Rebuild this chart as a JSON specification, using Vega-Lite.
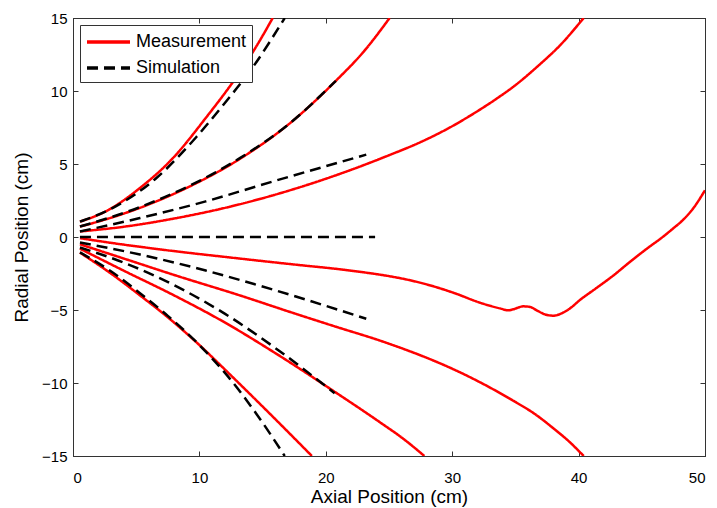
{
  "$schema": "https://vega.github.io/schema/vega-lite/v6.json",
  "width": 632,
  "height": 438,
  "autosize": {"type": "none"},
  "padding": {"left": 73, "top": 18, "right": 12, "bottom": 52},
  "background": "white",
  "config": {
    "font": "Liberation Sans",
    "view": {"stroke": "#333", "strokeWidth": 1},
    "axis": {"grid": false, "domainColor": "#333", "tickColor": "#333", "labelColor": "black", "titleColor": "black", "labelFont": "Liberation Sans", "titleFont": "Liberation Sans", "titleFontWeight": "normal"}
  },
  "data": {"values": [
    {"s":"M1","t":"Measurement","x":0.55,"y":1.05},{"s":"M1","t":"Measurement","x":2.6,"y":1.76},{"s":"M1","t":"Measurement","x":5.3,"y":3.36},{"s":"M1","t":"Measurement","x":7.9,"y":5.4},{"s":"M1","t":"Measurement","x":10.5,"y":8.15},{"s":"M1","t":"Measurement","x":13.2,"y":11.3},{"s":"M1","t":"Measurement","x":14.5,"y":13.05},{"s":"M1","t":"Measurement","x":15.8,"y":15},
    {"s":"M2","t":"Measurement","x":0.55,"y":0.72},{"s":"M2","t":"Measurement","x":1.6,"y":0.96},{"s":"M2","t":"Measurement","x":5.3,"y":2.0},{"s":"M2","t":"Measurement","x":9.2,"y":3.45},{"s":"M2","t":"Measurement","x":13.2,"y":5.35},{"s":"M2","t":"Measurement","x":17.1,"y":7.75},{"s":"M2","t":"Measurement","x":20.8,"y":10.7},{"s":"M2","t":"Measurement","x":23,"y":12.7},{"s":"M2","t":"Measurement","x":25.05,"y":15},
    {"s":"M3","t":"Measurement","x":0.55,"y":0.38},{"s":"M3","t":"Measurement","x":4,"y":0.7},{"s":"M3","t":"Measurement","x":7.9,"y":1.25},{"s":"M3","t":"Measurement","x":11.8,"y":1.95},{"s":"M3","t":"Measurement","x":15.8,"y":2.85},{"s":"M3","t":"Measurement","x":19,"y":3.7},{"s":"M3","t":"Measurement","x":22,"y":4.6},{"s":"M3","t":"Measurement","x":25,"y":5.6},{"s":"M3","t":"Measurement","x":27.5,"y":6.5},{"s":"M3","t":"Measurement","x":29.6,"y":7.4},{"s":"M3","t":"Measurement","x":31.5,"y":8.35},{"s":"M3","t":"Measurement","x":33.3,"y":9.35},{"s":"M3","t":"Measurement","x":35,"y":10.4},{"s":"M3","t":"Measurement","x":36.9,"y":11.8},{"s":"M3","t":"Measurement","x":38.5,"y":13.1},{"s":"M3","t":"Measurement","x":40.4,"y":15},
    {"s":"M4","t":"Measurement","x":0.55,"y":-0.08},{"s":"M4","t":"Measurement","x":3,"y":-0.4},{"s":"M4","t":"Measurement","x":6,"y":-0.75},{"s":"M4","t":"Measurement","x":9,"y":-1.07},{"s":"M4","t":"Measurement","x":12.2,"y":-1.38},{"s":"M4","t":"Measurement","x":15,"y":-1.65},{"s":"M4","t":"Measurement","x":18,"y":-1.93},{"s":"M4","t":"Measurement","x":21,"y":-2.2},{"s":"M4","t":"Measurement","x":23,"y":-2.42},{"s":"M4","t":"Measurement","x":25,"y":-2.68},{"s":"M4","t":"Measurement","x":26.6,"y":-2.95},{"s":"M4","t":"Measurement","x":28.2,"y":-3.3},{"s":"M4","t":"Measurement","x":30.2,"y":-3.85},{"s":"M4","t":"Measurement","x":32.2,"y":-4.5},{"s":"M4","t":"Measurement","x":33.78,"y":-4.89},{"s":"M4","t":"Measurement","x":34.44,"y":-5.02},{"s":"M4","t":"Measurement","x":34.83,"y":-4.95},{"s":"M4","t":"Measurement","x":35.63,"y":-4.75},{"s":"M4","t":"Measurement","x":36.16,"y":-4.79},{"s":"M4","t":"Measurement","x":36.68,"y":-5.02},{"s":"M4","t":"Measurement","x":37.34,"y":-5.3},{"s":"M4","t":"Measurement","x":38.0,"y":-5.39},{"s":"M4","t":"Measurement","x":38.66,"y":-5.23},{"s":"M4","t":"Measurement","x":39.32,"y":-4.89},{"s":"M4","t":"Measurement","x":40.1,"y":-4.32},{"s":"M4","t":"Measurement","x":41.4,"y":-3.5},{"s":"M4","t":"Measurement","x":42.7,"y":-2.67},{"s":"M4","t":"Measurement","x":44,"y":-1.75},{"s":"M4","t":"Measurement","x":45.4,"y":-0.8},{"s":"M4","t":"Measurement","x":46.5,"y":-0.1},{"s":"M4","t":"Measurement","x":47.5,"y":0.6},{"s":"M4","t":"Measurement","x":48.3,"y":1.2},{"s":"M4","t":"Measurement","x":49.1,"y":2.0},{"s":"M4","t":"Measurement","x":50,"y":3.2},
    {"s":"M5","t":"Measurement","x":0.55,"y":-0.5},{"s":"M5","t":"Measurement","x":4,"y":-1.47},{"s":"M5","t":"Measurement","x":8,"y":-2.6},{"s":"M5","t":"Measurement","x":13.2,"y":-4.0},{"s":"M5","t":"Measurement","x":17.4,"y":-5.2},{"s":"M5","t":"Measurement","x":21,"y":-6.2},{"s":"M5","t":"Measurement","x":24.3,"y":-7.1},{"s":"M5","t":"Measurement","x":26.1,"y":-7.65},{"s":"M5","t":"Measurement","x":28.2,"y":-8.35},{"s":"M5","t":"Measurement","x":30.2,"y":-9.1},{"s":"M5","t":"Measurement","x":32.2,"y":-9.95},{"s":"M5","t":"Measurement","x":34.8,"y":-11.2},{"s":"M5","t":"Measurement","x":36.5,"y":-12.1},{"s":"M5","t":"Measurement","x":38,"y":-13.1},{"s":"M5","t":"Measurement","x":39.3,"y":-14.05},{"s":"M5","t":"Measurement","x":40.4,"y":-15},
    {"s":"M6","t":"Measurement","x":0.55,"y":-0.8},{"s":"M6","t":"Measurement","x":4,"y":-2.3},{"s":"M6","t":"Measurement","x":8,"y":-4.0},{"s":"M6","t":"Measurement","x":12,"y":-5.85},{"s":"M6","t":"Measurement","x":16,"y":-7.95},{"s":"M6","t":"Measurement","x":20.7,"y":-10.6},{"s":"M6","t":"Measurement","x":24.3,"y":-12.7},{"s":"M6","t":"Measurement","x":26.1,"y":-13.8},{"s":"M6","t":"Measurement","x":27.8,"y":-15},
    {"s":"M7","t":"Measurement","x":0.55,"y":-1.07},{"s":"M7","t":"Measurement","x":3,"y":-2.5},{"s":"M7","t":"Measurement","x":5.3,"y":-4.0},{"s":"M7","t":"Measurement","x":7.5,"y":-5.5},{"s":"M7","t":"Measurement","x":10,"y":-7.4},{"s":"M7","t":"Measurement","x":12.4,"y":-9.4},{"s":"M7","t":"Measurement","x":15.8,"y":-12.3},{"s":"M7","t":"Measurement","x":18.9,"y":-15},
    {"s":"S1","t":"Simulation","x":0.55,"y":1.05},{"s":"S1","t":"Simulation","x":3.16,"y":2.0},{"s":"S1","t":"Simulation","x":6.6,"y":4.04},{"s":"S1","t":"Simulation","x":9.76,"y":6.85},{"s":"S1","t":"Simulation","x":11.9,"y":9.06},{"s":"S1","t":"Simulation","x":14.2,"y":11.6},{"s":"S1","t":"Simulation","x":16.75,"y":15},
    {"s":"S2","t":"Simulation","x":0.55,"y":0.72},{"s":"S2","t":"Simulation","x":1.6,"y":0.98},{"s":"S2","t":"Simulation","x":5.3,"y":2.05},{"s":"S2","t":"Simulation","x":9.2,"y":3.5},{"s":"S2","t":"Simulation","x":13.2,"y":5.4},{"s":"S2","t":"Simulation","x":17.1,"y":7.75},{"s":"S2","t":"Simulation","x":20.8,"y":10.7},
    {"s":"S3","t":"Simulation","x":0.55,"y":0.38},{"s":"S3","t":"Simulation","x":5.3,"y":1.3},{"s":"S3","t":"Simulation","x":10.5,"y":2.44},{"s":"S3","t":"Simulation","x":15.8,"y":3.8},{"s":"S3","t":"Simulation","x":23.2,"y":5.64},
    {"s":"S4","t":"Simulation","x":0.55,"y":0},{"s":"S4","t":"Simulation","x":23.9,"y":0},
    {"s":"S5","t":"Simulation","x":0.55,"y":-0.38},{"s":"S5","t":"Simulation","x":5.3,"y":-1.2},{"s":"S5","t":"Simulation","x":10.5,"y":-2.3},{"s":"S5","t":"Simulation","x":15.8,"y":-3.6},{"s":"S5","t":"Simulation","x":23.2,"y":-5.6},
    {"s":"S6","t":"Simulation","x":0.55,"y":-0.72},{"s":"S6","t":"Simulation","x":4,"y":-1.75},{"s":"S6","t":"Simulation","x":8,"y":-3.3},{"s":"S6","t":"Simulation","x":12,"y":-5.25},{"s":"S6","t":"Simulation","x":16,"y":-7.6},{"s":"S6","t":"Simulation","x":20.7,"y":-10.7},
    {"s":"S7","t":"Simulation","x":0.55,"y":-1.05},{"s":"S7","t":"Simulation","x":3,"y":-2.35},{"s":"S7","t":"Simulation","x":5.3,"y":-3.85},{"s":"S7","t":"Simulation","x":7.5,"y":-5.4},{"s":"S7","t":"Simulation","x":10,"y":-7.4},{"s":"S7","t":"Simulation","x":12.4,"y":-9.7},{"s":"S7","t":"Simulation","x":14.5,"y":-12.1},{"s":"S7","t":"Simulation","x":16.75,"y":-15}
  ]},
  "layer": [
    {
      "mark": {"type": "line", "strokeWidth": 2.5, "clip": true, "interpolate": "monotone"},
      "encoding": {
        "x": {"field": "x", "type": "quantitative", "scale": {"domain": [0, 50], "nice": false, "zero": false},
          "axis": {"orient": "bottom", "values": [0,10,20,30,40,50], "tickSize": -5, "labelPadding": 19, "labelFontSize": 15, "title": "Axial Position (cm)", "titleFontSize": 19, "titlePadding": 2}},
        "y": {"field": "y", "type": "quantitative", "scale": {"domain": [-15, 15], "nice": false, "zero": false},
          "axis": {"orient": "left", "values": [-15,-10,-5,0,5,10,15], "tickSize": -5, "labelPadding": 11, "labelFontSize": 15, "title": "Radial Position (cm)", "titleFontSize": 19, "titlePadding": 10}},
        "detail": {"field": "s"},
        "color": {"field": "t", "type": "nominal", "scale": {"domain": ["Measurement", "Simulation"], "range": ["#ff0000", "#000000"]},
          "legend": {"title": null, "orient": "top-left", "offset": 7, "strokeColor": "#333", "fillColor": "white", "padding": 5, "labelFontSize": 18, "labelFont": "Liberation Sans", "symbolType": "M-1,0H3.3", "symbolSize": 400, "symbolStrokeWidth": 3.5, "rowPadding": 5, "labelOffset": 27, "cornerRadius": 0}},
        "strokeDash": {"field": "t", "type": "nominal", "scale": {"domain": ["Measurement", "Simulation"], "range": [[1, 0], [11, 6]]}, "legend": null}
      }
    },
    {
      "mark": {"type": "point", "opacity": 0},
      "encoding": {
        "x": {"field": "x", "type": "quantitative", "axis": {"orient": "top", "values": [0,10,20,30,40,50], "tickSize": -5, "labels": false, "title": null}},
        "y": {"field": "y", "type": "quantitative", "axis": {"orient": "right", "values": [-15,-10,-5,0,5,10,15], "tickSize": -5, "labels": false, "title": null}}
      }
    }
  ]
}
